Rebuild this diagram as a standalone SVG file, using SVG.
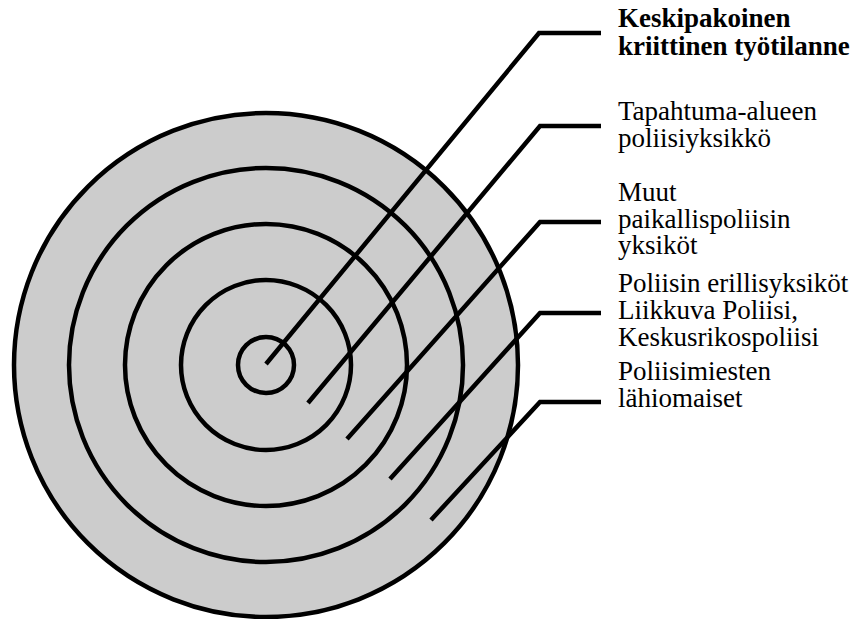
<svg xmlns="http://www.w3.org/2000/svg" width="853" height="619" viewBox="0 0 853 619">
<style>
  .ring { fill: none; stroke: #000; stroke-width: 4.5; }
  .outer { fill: #cccccc; }
  .conn { fill: none; stroke: #000; stroke-width: 4.5; stroke-linejoin: miter; stroke-linecap: butt; }
  .lbl { font-family: "Liberation Serif", "Times New Roman", serif; font-size: 27px; fill: #000; }
  .bold { font-weight: bold; }
</style>
<rect width="853" height="619" fill="#ffffff"/>
<g id="ring5">
  <circle class="ring outer" cx="266" cy="365" r="252"/>
  <text class="lbl" x="618" y="380">Poliisimiesten</text>
  <text class="lbl" x="618" y="407">lähiomaiset</text>
</g>
<g id="ring4">
  <circle class="ring" cx="266" cy="365" r="197"/>
  <text class="lbl" x="618" y="292">Poliisin erillisyksiköt</text>
  <text class="lbl" x="618" y="319">Liikkuva Poliisi,</text>
  <text class="lbl" x="618" y="346">Keskusrikospoliisi</text>
</g>
<g id="ring3">
  <circle class="ring" cx="266" cy="365" r="141"/>
  <text class="lbl" x="618" y="201">Muut</text>
  <text class="lbl" x="618" y="227.5">paikallispoliisin</text>
  <text class="lbl" x="618" y="254">yksiköt</text>
</g>
<g id="ring2">
  <circle class="ring" cx="266" cy="365" r="85"/>
  <text class="lbl" x="618" y="120">Tapahtuma-alueen</text>
  <text class="lbl" x="618" y="147">poliisiyksikkö</text>
</g>
<g id="ring1">
  <circle class="ring" cx="266" cy="365" r="28"/>
  <text class="lbl bold" x="618" y="27">Keskipakoinen</text>
  <text class="lbl bold" x="618" y="54.5">kriittinen työtilanne</text>
</g>
<g id="connectors">
  <polyline class="conn" points="266,364 539,33 601,33"/>
  <polyline class="conn" points="308,403 540,126 601,126"/>
  <polyline class="conn" points="347,439 540,222 601,222"/>
  <polyline class="conn" points="390,479 540,313 601,313"/>
  <polyline class="conn" points="431,520 540,402 601,402"/>
</g>
</svg>
